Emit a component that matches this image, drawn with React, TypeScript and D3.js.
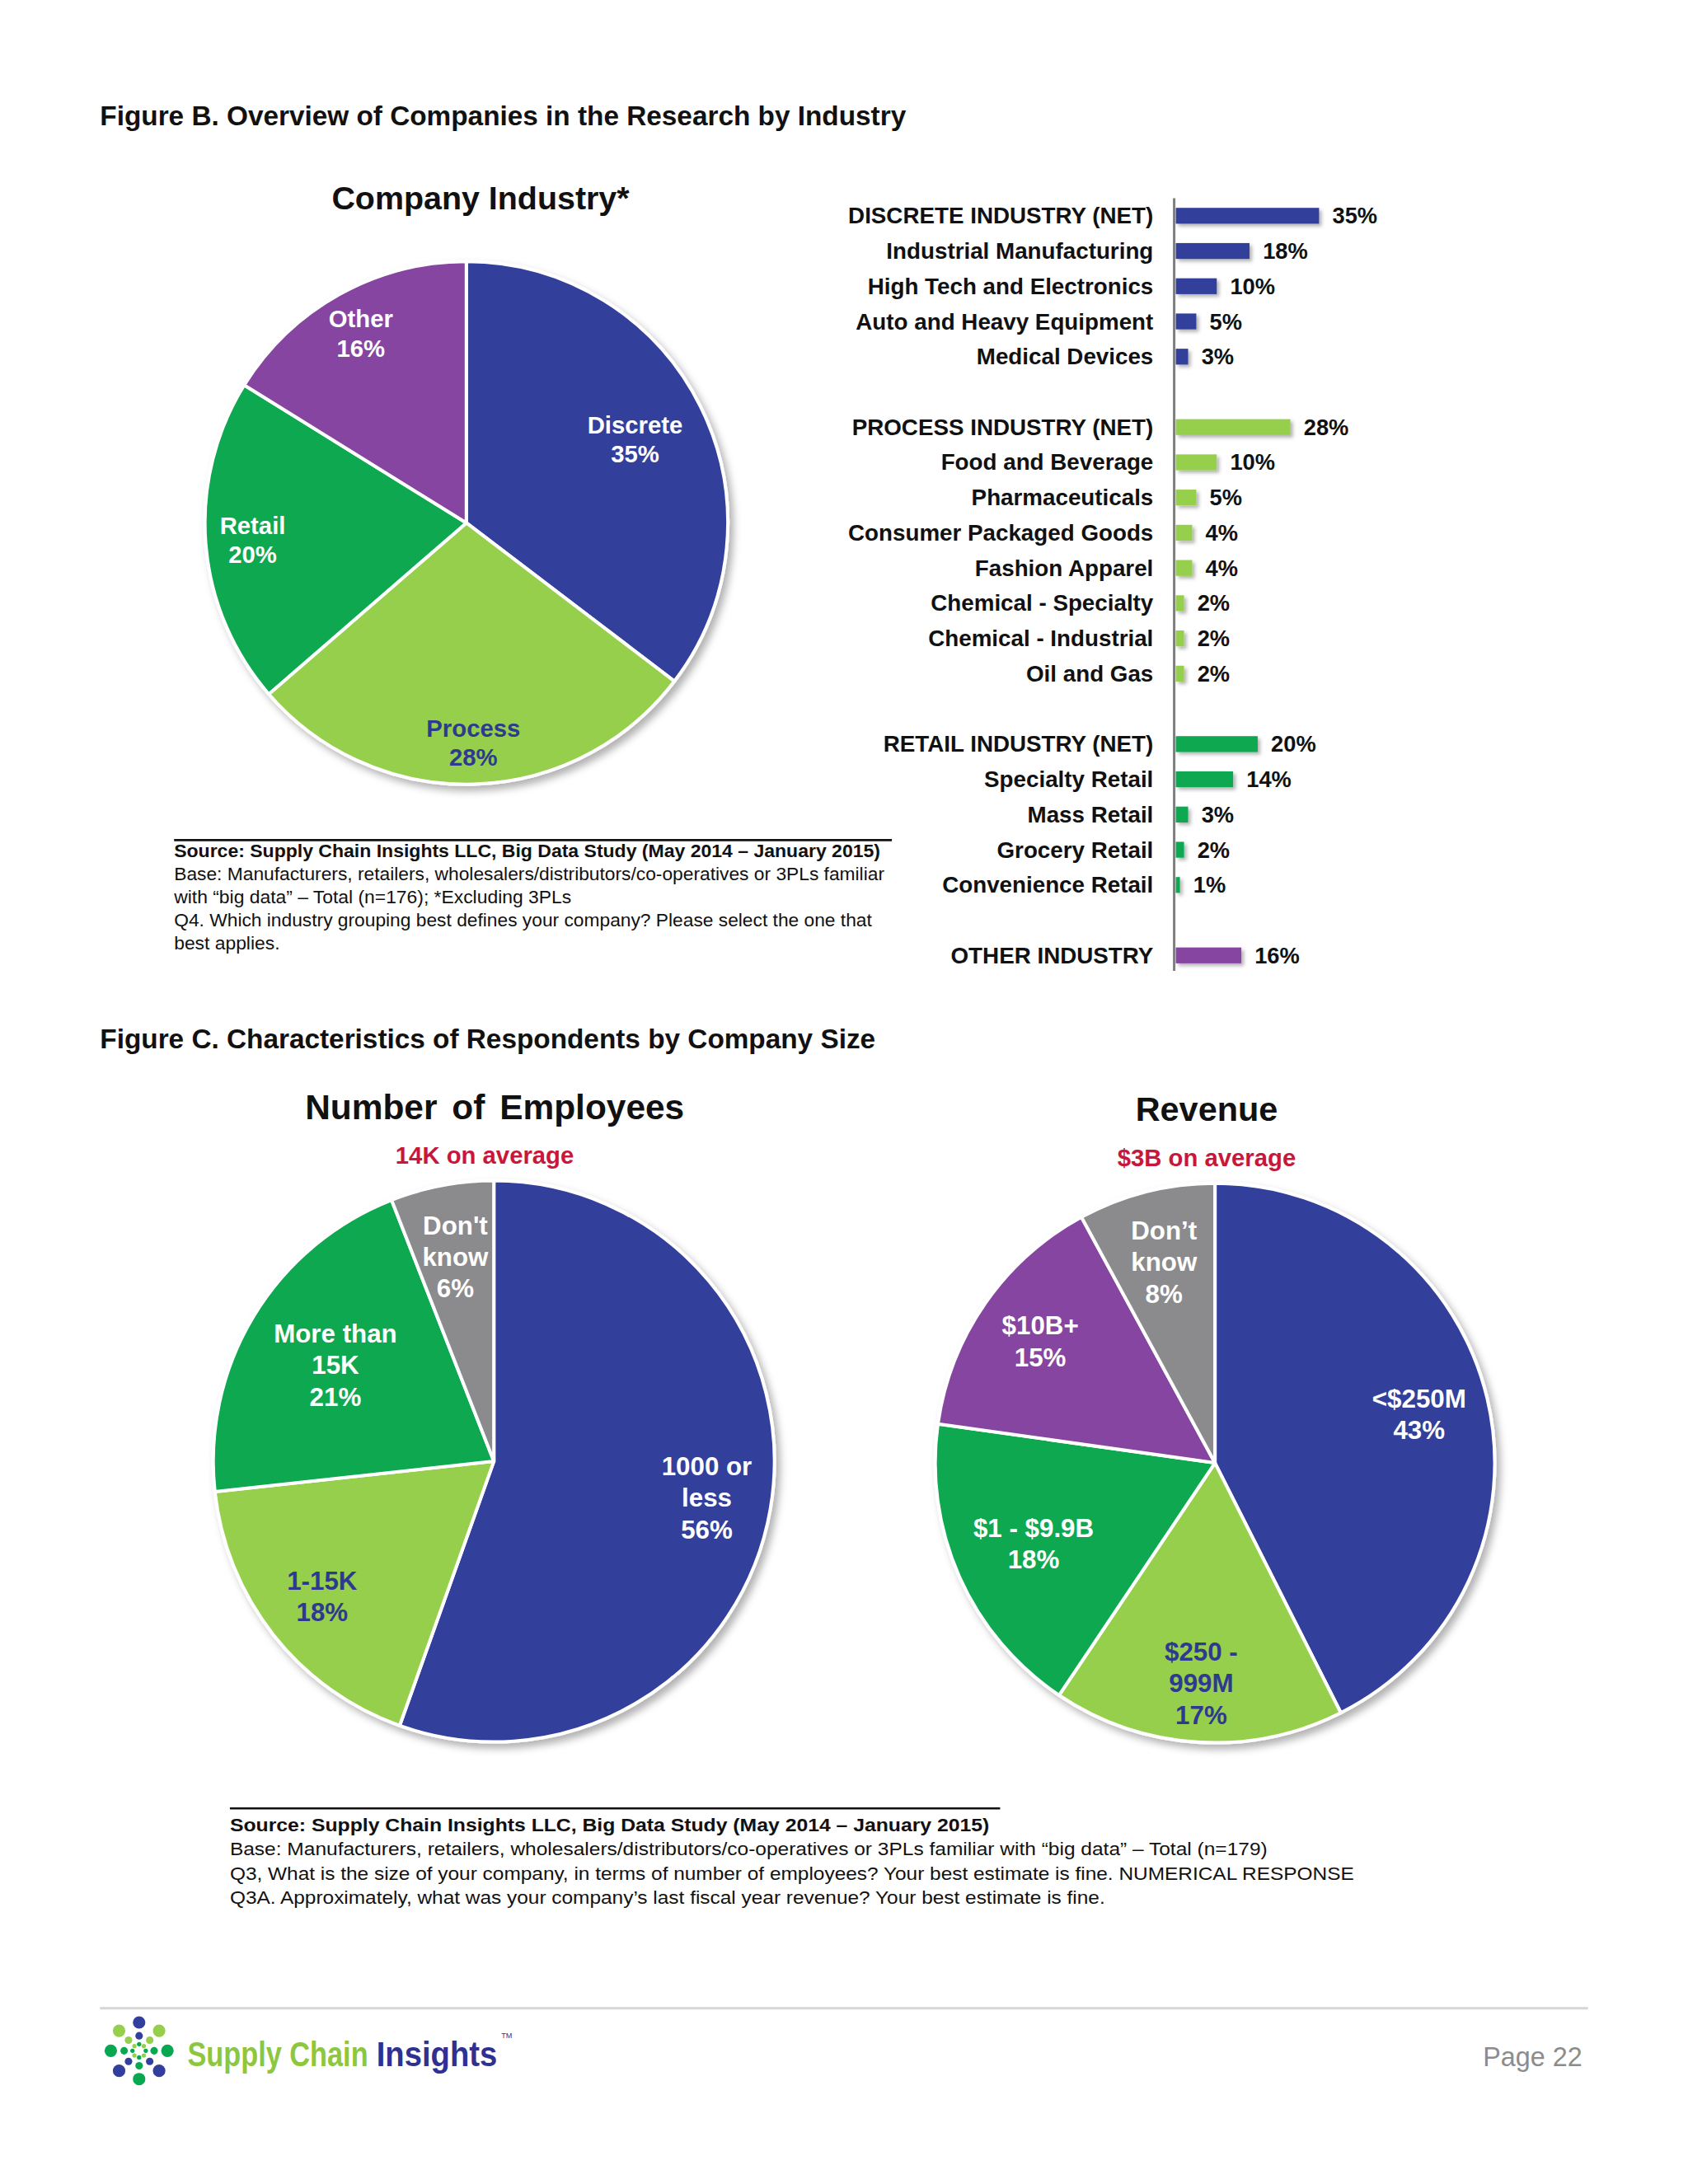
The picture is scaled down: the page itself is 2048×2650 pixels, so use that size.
import React, { useEffect } from "react";
import * as d3 from "d3";

// ---- data -------------------------------------------------------------
const industryCats = ["Discrete", "Process", "Retail", "Other"];
const industryVals = [35, 28, 20, 16];

const employeeCats = ["1000 or\nless", "1-15K", "More than\n15K", "Don't\nknow"];
const employeeVals = [56, 18, 21, 6];

const revenueCats = ["<$250M", "$250 -\n999M", "$1 - $9.9B", "$10B+", "Don’t\nknow"];
const revenueVals = [43, 17, 18, 15, 8];

const discreteLabels = [
  "DISCRETE INDUSTRY (NET)",
  "Industrial Manufacturing",
  "High Tech and Electronics",
  "Auto and Heavy Equipment",
  "Medical Devices",
];
const discreteVals = [35, 18, 10, 5, 3];

const processLabels = [
  "PROCESS INDUSTRY (NET)",
  "Food and Beverage",
  "Pharmaceuticals",
  "Consumer Packaged Goods",
  "Fashion Apparel",
  "Chemical - Specialty",
  "Chemical - Industrial",
  "Oil and Gas",
];
const processVals = [28, 10, 5, 4, 4, 2, 2, 2];

const retailLabels = [
  "RETAIL INDUSTRY (NET)",
  "Specialty Retail",
  "Mass Retail",
  "Grocery Retail",
  "Convenience Retail",
];
const retailVals = [20, 14, 3, 2, 1];

const otherLabels = ["OTHER INDUSTRY"];
const otherVals = [16];

const source1 = [
  "Source:  Supply Chain Insights LLC, Big Data Study  (May 2014 – January 2015)",
  "Base:  Manufacturers,  retailers, wholesalers/distributors/co-operatives or 3PLs familiar",
  "with “big data” – Total (n=176); *Excluding 3PLs",
  "Q4. Which industry grouping best defines your company?  Please select the one that",
  "best applies.",
];
const source1Widths = [848, 853, 477, 838, 127];

const source2 = [
  "Source:  Supply Chain Insights LLC, Big Data Study  (May 2014 – January 2015)",
  "Base:  Manufacturers,  retailers, wholesalers/distributors/co-operatives or 3PLs familiar with “big data” – Total (n=179)",
  "Q3, What is the size of your company, in terms of number of employees? Your best estimate is fine. NUMERICAL RESPONSE",
  "Q3A. Approximately, what was your company’s last fiscal year revenue? Your best estimate is fine.",
];
const source2Widths = [912, 1246, 1350, 1051];

// ---- style ------------------------------------------------------------
const BLUE = "#333F9C";
const LIME = "#96CF4B";
const GREEN = "#07A850";
const PURPLE = "#8645A0";
const GRAY = "#8B8A8D";
const RED = "#C8173A";
const DARK_TEXT = "#2E3A8F";
const FONT = "'Liberation Sans', Arial, sans-serif";
const NARROW = "'Liberation Sans Narrow', 'Liberation Sans', Arial, sans-serif";

// layout units: the page is drawn on a 2027-wide grid and scaled to 2048px
const VB_W = 2027;
const VB_H = 2623;

interface PieProps {
  cx: number;
  cy: number;
  r: number;
  cats: string[];
  vals: number[];
  colors: string[];
  textColors: string[];
  labelK: number[]; // label distance from centre, as a share of the radius
  fontSize: number;
  lineH: number;
}

const Pie: React.FC<PieProps> = ({ cx, cy, r, cats, vals, colors, textColors, labelK, fontSize, lineH }) => {
  const arcs = d3.pie<number>().sort(null).value((d) => d)(vals);
  const arc = d3.arc<d3.PieArcDatum<number>>().innerRadius(0).outerRadius(r);

  return (
    <g transform={`translate(${cx},${cy})`}>
      <g filter="url(#shadow)">
        {arcs.map((a, i) => (
          <path key={i} d={arc(a) || ""} fill={colors[i]} stroke="#fff" strokeWidth={4} strokeLinejoin="round" />
        ))}
      </g>
      {arcs.map((a, i) => {
        const lr = r * labelK[i];
        const [lx, ly] = d3.arc<d3.PieArcDatum<number>>().innerRadius(lr).outerRadius(lr).centroid(a);
        const lines = cats[i].split("\n").concat(`${vals[i]}%`);
        const top = ly - ((lines.length - 1) * lineH) / 2;
        return (
          <text
            key={i}
            x={lx}
            y={top}
            textAnchor="middle"
            fontFamily={FONT}
            fontWeight="bold"
            fontSize={fontSize}
            fill={textColors[i]}
          >
            {lines.map((t, j) => (
              <tspan key={j} x={lx} y={top + j * lineH} dominantBaseline="central">
                {t}
              </tspan>
            ))}
          </text>
        );
      })}
    </g>
  );
};

const IndustryBars: React.FC = () => {
  const groups = [
    { labels: discreteLabels, vals: discreteVals, color: BLUE },
    { labels: processLabels, vals: processVals, color: LIME },
    { labels: retailLabels, vals: retailVals, color: GREEN },
    { labels: otherLabels, vals: otherVals, color: PURPLE },
  ];
  const rows: { label: string; value: number; color: string; slot: number }[] = [];
  let slot = 0;
  groups.forEach((g, gi) => {
    g.labels.forEach((label, i) => {
      rows.push({ label, value: g.vals[i], color: g.color, slot });
      slot += 1;
    });
    if (gi < groups.length - 1) slot += 1; // empty row between groups
  });
  const slots = d3.range(slot);

  const axisX = 1410;
  const y = d3
    .scaleBand<number>()
    .domain(slots)
    .range([238, 238 + slot * 42.3])
    .paddingInner(0.55)
    .paddingOuter(0.275);
  const x = d3.scaleLinear().domain([0, 35]).range([axisX + 2, axisX + 174]);

  return (
    <g>
      <g filter="url(#barShadow)">
        {rows.map((d) => (
          <rect
            key={d.label}
            x={x(0)}
            y={y(d.slot)!}
            width={Math.max(1.5, x(d.value) - x(0))}
            height={y.bandwidth()}
            fill={d.color}
          />
        ))}
      </g>
      <line x1={axisX} x2={axisX} y1={238} y2={1166} stroke="#7F7F7F" strokeWidth={3} />
      {rows.map((d) => {
        const cy = y(d.slot)! + y.bandwidth() / 2;
        return (
          <g key={d.label} fontFamily={FONT} fontWeight="bold" fill="#111">
            <text x={axisX - 25} y={cy} textAnchor="end" dominantBaseline="central" fontSize={27.5}>
              {d.label}
            </text>
            <text x={x(d.value) + 16} y={cy} dominantBaseline="central" fontSize={27}>
              {`${d.value}%`}
            </text>
          </g>
        );
      })}
    </g>
  );
};

const SourceNote: React.FC<{ x: number; lineY: number; lineW: number; lines: string[]; widths: number[]; y0: number; step: number; fs: number }> = ({
  x,
  lineY,
  lineW,
  lines,
  widths,
  y0,
  step,
  fs,
}) => (
  <g fontFamily={NARROW} fill="#111">
    <line x1={x} x2={x + lineW} y1={lineY} y2={lineY} stroke="#111" strokeWidth={2.5} />
    {lines.map((t, i) => (
      <text
        key={i}
        x={x}
        y={y0 + i * step}
        dominantBaseline="central"
        fontSize={fs}
        fontWeight={i === 0 ? "bold" : "normal"}
        textLength={widths[i]}
        lengthAdjust="spacingAndGlyphs"
      >
        {t}
      </text>
    ))}
  </g>
);

const Logo: React.FC<{ cx: number; cy: number }> = ({ cx, cy }) => {
  const ring = [BLUE, LIME, GREEN, BLUE, GREEN, BLUE, GREEN, LIME];
  const rings = [
    { rad: 34, size: 7.5 },
    { rad: 18, size: 4.5 },
    { rad: 8, size: 2.6 },
  ];
  return (
    <g>
      {rings.map((rg, k) =>
        ring.map((c, i) => {
          const a = (i * Math.PI) / 4;
          return (
            <circle
              key={`${k}-${i}`}
              cx={cx + Math.sin(a) * rg.rad}
              cy={cy - Math.cos(a) * rg.rad}
              r={rg.size}
              fill={k === 2 ? (i % 2 ? LIME : GREEN) : c}
            />
          );
        })
      )}
    </g>
  );
};

const App: React.FC = () => {
  useEffect(() => {
    document.body.style.margin = "0";
  }, []);

  return (
    <svg width={2048} height={2650} viewBox={`0 0 ${VB_W} ${VB_H}`} style={{ display: "block", background: "#fff" }}>
      <defs>
        <filter id="shadow" x="-10%" y="-10%" width="125%" height="125%">
          <feDropShadow dx={5} dy={6} stdDeviation={5} floodColor="#000" floodOpacity={0.3} />
        </filter>
        <filter id="barShadow" x="-10%" y="-20%" width="130%" height="160%">
          <feDropShadow dx={3} dy={3} stdDeviation={2} floodColor="#000" floodOpacity={0.3} />
        </filter>
      </defs>

      {/* Figure B */}
      <text x={120} y={139} dominantBaseline="central" fontFamily={FONT} fontWeight="bold" fontSize={33} fill="#111">
        Figure B. Overview of Companies in the Research by Industry
      </text>
      <text x={577} y={238} textAnchor="middle" dominantBaseline="central" fontFamily={FONT} fontWeight="bold" fontSize={39} fill="#111">
        Company Industry*
      </text>
      <Pie
        cx={560}
        cy={628}
        r={314}
        cats={industryCats}
        vals={industryVals}
        colors={[BLUE, LIME, GREEN, PURPLE]}
        textColors={["#fff", DARK_TEXT, "#fff", "#fff"]}
        labelK={[0.72, 0.84, 0.82, 0.83]}
        fontSize={29}
        lineH={35}
      />
      <SourceNote x={209} lineY={1009} lineW={862} lines={source1} widths={source1Widths} y0={1022} step={27.8} fs={21} />
      <IndustryBars />

      {/* Figure C */}
      <text x={120} y={1248} dominantBaseline="central" fontFamily={FONT} fontWeight="bold" fontSize={33} fill="#111">
        Figure C. Characteristics of Respondents by Company Size
      </text>
      <text x={594} y={1330} textAnchor="middle" dominantBaseline="central" fontFamily={FONT} fontWeight="bold" fontSize={42} fill="#111" wordSpacing={6}>
        Number of Employees
      </text>
      <text x={582} y={1387} textAnchor="middle" dominantBaseline="central" fontFamily={FONT} fontWeight="bold" fontSize={29} fill={RED}>
        14K on average
      </text>
      <Pie
        cx={593}
        cy={1755}
        r={337}
        cats={employeeCats}
        vals={employeeVals}
        colors={[BLUE, LIME, GREEN, GRAY]}
        textColors={["#fff", DARK_TEXT, "#fff", "#fff"]}
        labelK={[0.77, 0.78, 0.66, 0.74]}
        fontSize={31}
        lineH={38}
      />
      <text x={1449} y={1332} textAnchor="middle" dominantBaseline="central" fontFamily={FONT} fontWeight="bold" fontSize={41} fill="#111">
        Revenue
      </text>
      <text x={1449} y={1390} textAnchor="middle" dominantBaseline="central" fontFamily={FONT} fontWeight="bold" fontSize={29} fill={RED}>
        $3B on average
      </text>
      <Pie
        cx={1459}
        cy={1757}
        r={336}
        cats={revenueCats}
        vals={revenueVals}
        colors={[BLUE, LIME, GREEN, PURPLE, GRAY]}
        textColors={["#fff", DARK_TEXT, "#fff", "#fff", "#fff"]}
        labelK={[0.75, 0.79, 0.71, 0.76, 0.74]}
        fontSize={31}
        lineH={38}
      />
      <SourceNote x={276} lineY={2172} lineW={925} lines={source2} widths={source2Widths} y0={2192} step={29} fs={22} />

      {/* footer */}
      <line x1={120} x2={1907} y1={2412} y2={2412} stroke="#D6D6D8" strokeWidth={3} />
      <Logo cx={167} cy={2463} />
      <g transform="translate(225,2466) scale(1,1.3)" fontFamily={FONT} fontWeight="bold" fontSize={33}>
        <text x={0} y={0} dominantBaseline="central" fill="#8DC63F" textLength={217} lengthAdjust="spacingAndGlyphs">
          Supply Chain
        </text>
        <text x={227} y={0} dominantBaseline="central" fill="#2E3192" textLength={145} lengthAdjust="spacingAndGlyphs">
          Insights
        </text>
      </g>
      <text x={602} y={2448} fontFamily={FONT} fontSize={9} fill="#2E3192">
        TM
      </text>
      <text x={1900} y={2471} textAnchor="end" dominantBaseline="central" fontFamily={NARROW} fontSize={32} fill="#8C8C8C">
        Page 22
      </text>
    </svg>
  );
};

export default App;
